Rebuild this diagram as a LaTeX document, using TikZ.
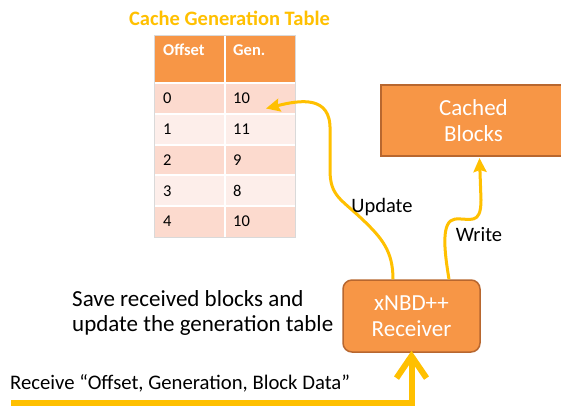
\documentclass[tikz,border=0pt]{standalone}
\usepackage{fontspec}
\setmainfont{Carlito}
\usetikzlibrary{arrows.meta}
\definecolor{orng}{HTML}{F79646}
\definecolor{orngdark}{HTML}{B8672F}
\definecolor{gold}{HTML}{FFC000}
\definecolor{rowdark}{HTML}{FCDACE}
\definecolor{rowlight}{HTML}{FDEEEA}
\definecolor{tblline}{HTML}{D9D9D9}
\tikzset{
  boxstyle/.style={draw=orngdark, fill=orng, line width=1.5pt, text=white, align=center,
    font=\fontsize{23}{26.5}\selectfont, inner sep=0pt},
  celltext/.style={anchor=west, inner sep=0pt, font=\fontsize{16.5}{19}\selectfont},
  headtext/.style={anchor=west, inner sep=0pt, text=white, font=\bfseries\fontsize{16.5}{19}\selectfont},
  flow/.style={draw=gold, line width=3pt, -{Stealth[length=14pt,width=13pt,inset=2pt]}},
  bigflow/.style={draw=gold, line width=6pt, line join=miter,
    -{Straight Barb[length=22pt,width=30pt]}},
  lbl/.style={inner sep=0pt, font=\fontsize{20.5}{24}\selectfont},
}
\begin{document}
\begin{tikzpicture}[x=1pt,y=-1pt]
\useasboundingbox (0,0) rectangle (561,408);
\clip (0,0) rectangle (561,408);
\fill[white] (0,0) rectangle (561,408);

% title
\node[inner sep=0pt, text=gold, font=\bfseries\fontsize{20.5}{24}\selectfont] (title) at (229.5,18) {Cache Generation Table};

% table
\draw[tblline, fill=white, line width=0.8pt] (154.5,35.5) rectangle (295,237);
\fill[orng] (155,36) rectangle (224,82);
\fill[orng] (226,36) rectangle (294.5,82);
\foreach \t/\b/\c in {84/113/rowdark, 115/144/rowlight, 146/174/rowdark, 176/205/rowlight, 207/236.5/rowdark}{
  \fill[\c] (155,\t) rectangle (224,\b);
  \fill[\c] (226,\t) rectangle (294.5,\b);
}
\node[headtext] (hoff) at (163,50) {Offset};
\node[headtext] (hgen) at (233,50) {Gen.};
\node[celltext] (o0) at (163,98.5) {0};
\node[celltext] (g0) at (233,98.5) {10};
\node[celltext] (o1) at (163,129.5) {1};
\node[celltext] (g1) at (233,129.5) {11};
\node[celltext] (o2) at (163,160) {2};
\node[celltext] (g2) at (233,160) {9};
\node[celltext] (o3) at (163,191) {3};
\node[celltext] (g3) at (233,191) {8};
\node[celltext] (o4) at (163,221.5) {4};
\node[celltext] (g4) at (233,221.5) {10};

% boxes
\node[boxstyle, minimum width=185pt, minimum height=71pt] (cache) at (473.5,120.5) {Cached\\Blocks};
\node[boxstyle, rounded corners=9pt, minimum width=137pt, minimum height=72pt] (rcv) at (411.5,316) {xNBD++\\Receiver};

% texts
\node[anchor=west, align=left, inner sep=0pt, font=\fontsize{23}{25}\selectfont] (save) at (72,313) {Save received blocks and\\update the generation table};
\node[anchor=base west, inner sep=0pt, font=\fontsize{20.7}{24}\selectfont] (recv) at (10,389) {Receive “Offset, Generation, Block Data”};

% connectors
\coordinate (updtip) at (266,108.5);
\coordinate (wrtip) at (479.5,158);
\coordinate (instart) at (11,403);
\draw[flow] ([xshift=-18.5pt]rcv.north) .. controls +(0,-28) and (382,238) .. (362,219)
  .. controls (341,199) and (330,196) .. (330,170) -- (330,130)
  .. controls (331,95) and (300,100) .. (updtip);
\draw[flow] ([xshift=37.5pt]rcv.north) .. controls +(-5,-30) and (441,221) .. (455,219)
  .. controls (470,218) and (481,226) .. (481,200) -- (wrtip);
\draw[bigflow] (instart) -- (instart -| rcv.south) -- ([yshift=2pt]rcv.south);

\node[lbl] (updlbl) at (382,207) {Update};
\node[lbl] (wrlbl) at (479,235) {Write};
\end{tikzpicture}
\end{document}
